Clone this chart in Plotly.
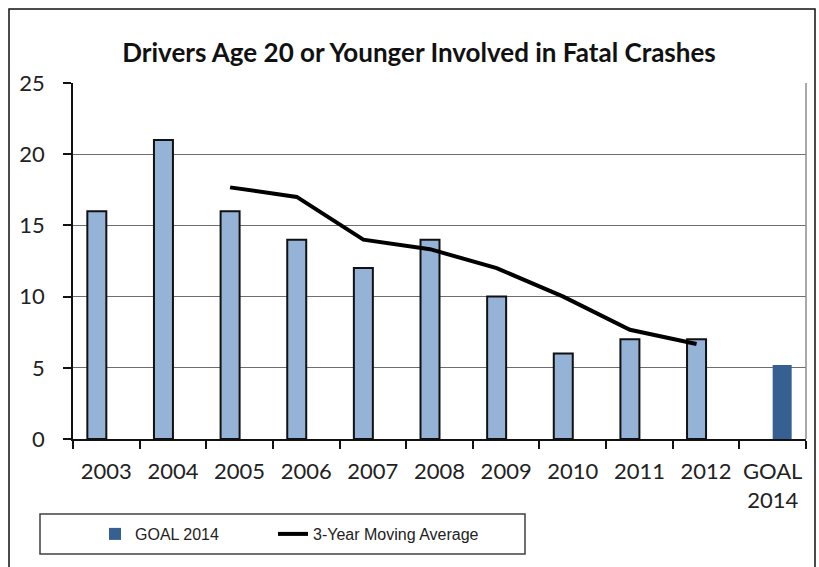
import plotly.graph_objects as go

categories = ["2003", "2004", "2005", "2006", "2007", "2008", "2009", "2010", "2011", "2012", "GOAL<br>2014"]
drivers = [16, 21, 16, 14, 12, 14, 10, 6, 7, 7, None]
goal = [None] * 10 + [5.2]
ma_years = ["2005", "2006", "2007", "2008", "2009", "2010", "2011", "2012"]
moving_avg = [17.67, 17.0, 14.0, 13.33, 12.0, 10.0, 7.67, 6.67]

W, H = 819, 567
L, R, T, B = 73, 806, 83, 439
BARGAP = 0.43


def px(x):
    return (x - L) / (R - L)


def py(y):
    return (B - y) / (B - T)


shift = (1 - BARGAP) / 4  # half a bar width, in category units

fig = go.Figure()
fig.add_trace(go.Bar(
    x=categories, y=drivers, name="Drivers",
    marker=dict(color="#95B3D7", line=dict(color="#111111", width=2)),
    showlegend=False,
))
fig.add_trace(go.Bar(
    x=categories, y=goal, name="GOAL 2014",
    marker=dict(color="#376092", line=dict(width=0)),
    legend="legend",
))
fig.add_trace(go.Scatter(
    x=ma_years, y=moving_avg, name="3-Year Moving Average",
    mode="lines", line=dict(color="#000000", width=4),
    xaxis="x2", legend="legend2",
))

tick_font = dict(family="Lato, Open Sans, sans-serif", size=22, color="#222222")
legend_font = dict(family="Liberation Sans, Arial, sans-serif", size=16, color="#222222")

fig.update_layout(
    width=W, height=H,
    margin=dict(l=L, r=W - R, t=T, b=H - B, pad=0, autoexpand=False),
    paper_bgcolor="white", plot_bgcolor="white",
    barmode="group", bargap=BARGAP, bargroupgap=0,
    title=dict(
        text="<b>Drivers Age 20 or Younger Involved in Fatal Crashes</b>",
        x=419 / W, xanchor="center", xref="container",
        y=1 - 53 / H, yanchor="middle", yref="container",
        font=dict(family="Lato, Open Sans, sans-serif", size=26, color="#111111"),
    ),
    xaxis=dict(
        type="category", categoryorder="array", categoryarray=categories,
        range=[-0.5, len(categories) - 0.5],
        showline=True, linecolor="#111111", linewidth=1.5,
        ticks="outside", tickson="boundaries", ticklen=8, tickcolor="#111111", tickwidth=1.5,
        tickfont=tick_font, ticklabelstandoff=12, tickangle=0, automargin=False,
        showgrid=False, zeroline=False,
    ),
    xaxis2=dict(
        type="category", categoryorder="array", categoryarray=categories,
        overlaying="x", visible=False,
        range=[-0.5 + shift, len(categories) - 0.5 + shift],
    ),
    yaxis=dict(
        range=[0, 25], dtick=5, tick0=0,
        showline=True, linecolor="#111111", linewidth=1.5,
        ticks="outside", ticklen=8, tickcolor="#111111", tickwidth=1.5,
        tickfont=tick_font, ticklabelstandoff=14, automargin=False,
        showgrid=True, gridcolor="#6E6E6E", gridwidth=1.3,
        zeroline=False,
    ),
    legend=dict(
        orientation="h", x=px(95), xanchor="left", y=py(534), yanchor="middle",
        font=legend_font, bgcolor="rgba(0,0,0,0)", borderwidth=0,
    ),
    legend2=dict(
        orientation="h", x=px(273), xanchor="left", y=py(534), yanchor="middle",
        font=legend_font, bgcolor="rgba(0,0,0,0)", borderwidth=0,
    ),
    shapes=[
        # right border of plot area
        dict(type="line", xref="paper", yref="paper", x0=1, x1=1, y0=0, y1=1,
             line=dict(color="#8C8C8C", width=1.5)),
        # legend box
        dict(type="rect", xref="paper", yref="paper",
             x0=px(40), x1=px(525), y0=py(514), y1=py(554),
             line=dict(color="#404040", width=1.5), fillcolor="rgba(0,0,0,0)"),
        # outer chart border
        dict(type="rect", xref="paper", yref="paper",
             x0=px(9), x1=px(815), y0=py(9), y1=py(580),
             line=dict(color="#111111", width=1.5), fillcolor="rgba(0,0,0,0)"),
    ],
)

fig.write_html("out.html", config={"displayModeBar": False},
               post_script="document.body.style.margin='0';")
